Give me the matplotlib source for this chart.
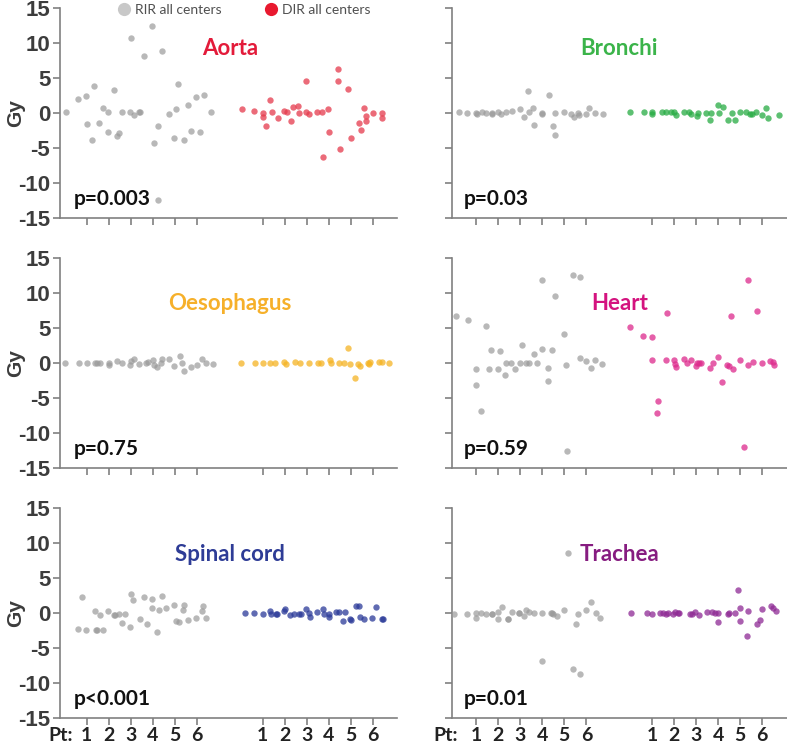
import matplotlib
matplotlib.use("Agg")
import matplotlib.pyplot as plt
from matplotlib.lines import Line2D

# ---------------- data ----------------
organs = ["Aorta", "Bronchi", "Oesophagus", "Heart", "Spinal cord", "Trachea"]
p_labels = ["p=0.003", "p=0.03", "p=0.75", "p=0.59", "p<0.001", "p=0.01"]
title_colors = ["#e31b3a", "#3bb44a", "#f6b02a", "#d4137f", "#2e3c96", "#861c80"]
dir_colors = ["#e53a4c", "#27ab43", "#f5b424", "#dd2a8c", "#2b3a98", "#8e2a94"]
rir_color = "#9a9a9a"

patients = [1, 2, 3, 4, 5, 6]
rir_tick_pos = [1, 2, 3, 4, 5, 6]
dir_tick_pos = [9, 10, 11, 12, 13, 14]
y_ticks = [-15, -10, -5, 0, 5, 10, 15]

aorta_rir_x = [0.05, 0.59, 0.98, 1.03, 1.32, 1.23, 1.56, 1.76, 1.98, 1.98, 2.26, 2.39, 2.47, 2.61, 3.0, 2.98, 3.15, 3.36, 3.42, 3.61,
               3.98, 4.05, 4.26, 4.24, 4.42, 4.76, 5.06, 5.14, 4.98, 5.41, 5.61, 5.74, 5.98, 6.14, 6.32, 6.64]
aorta_rir_y = [0.14, 2.0, 2.4, -1.57, 3.86, -3.76, -1.43, 0.8, 0.19, -2.67, 3.38, -3.29, -2.86, 0.19, 10.76, 0.19, -0.29, 0.24, 0.19, 8.14,
               12.48, -4.19, -1.81, -12.38, 8.86, -0.05, 0.57, 4.24, -3.48, -3.81, 1.19, -2.57, 2.33, -2.62, 2.67, 0.19]
aorta_dir_x = [8.05, 8.59, 9.02, 9.0, 9.17, 9.35, 9.42, 9.68, 9.98, 10.1, 10.27, 10.39, 10.6, 10.67, 10.98, 10.97, 11.09, 11.45, 11.68, 11.74,
               11.98, 12.03, 12.41, 12.42, 12.5, 12.89, 13.0, 13.39, 13.47, 13.62, 13.67, 13.67, 14.0, 14.44, 14.44]
aorta_dir_y = [0.62, 0.29, 0.1, -0.52, -1.81, 1.9, 0.14, -0.71, 0.38, 0.19, -1.05, 0.95, 1.1, 0.1, 4.57, 0.14, -0.1, 0.14, 0.14, -6.29,
               0.67, -2.67, 6.33, 4.57, -5.1, 3.52, -3.48, -1.43, -2.33, 0.76, -0.33, -1.05, 0.1, 0.0, -0.71]

bronchi_rir_x = [0.21, 0.59, 1.0, 1.27, 1.45, 1.7, 1.97, 2.14, 2.35, 2.64, 2.98, 3.17, 3.36, 3.39, 3.59, 3.61, 3.98, 4.29, 4.47, 4.59,
                 4.59, 4.98, 5.3, 5.42, 5.61, 5.67, 5.97, 6.14, 6.41, 6.74, 1.02, 1.72, 4.0]
bronchi_rir_y = [0.14, 0.1, 0.0, 0.19, 0.05, 0.05, 0.14, -0.05, 0.19, 0.33, 0.62, -0.57, 3.14, 0.19, 0.71, -1.62, 0.0, 2.57, -1.76, -3.05,
                 0.05, 0.19, -0.05, -0.57, 0.0, -0.29, -0.05, 0.71, 0.0, -0.05, -0.05, -0.05, -0.05]
bronchi_dir_x = [7.98, 8.61, 9.0, 9.0, 9.44, 9.61, 9.83, 10.0, 10.08, 10.45, 10.68, 10.77, 11.02, 11.06, 11.44, 11.61, 11.68, 12.0, 12.23, 12.02,
                 12.45, 12.74, 12.61, 12.98, 13.24, 13.42, 13.55, 13.7, 14.0, 14.15, 14.27, 14.76]
bronchi_dir_y = [0.19, 0.19, 0.24, -0.14, 0.19, 0.19, 0.24, 0.19, -0.24, 0.24, 0.19, -0.1, -0.43, 0.1, 0.1, -0.9, 0.05, 1.14, 0.9, 0.1,
                 -1.0, -1.0, 0.05, 0.19, 0.14, -0.05, -0.1, 0.19, -0.19, 0.76, -0.62, -0.19]

oeso_rir_x = [0.02, 0.65, 1.0, 1.38, 1.48, 1.61, 2.0, 2.03, 2.39, 2.62, 2.97, 3.02, 3.15, 3.38, 3.68, 3.8, 4.0, 4.08, 4.18, 4.41,
              4.39, 4.73, 4.95, 5.24, 5.33, 5.42, 5.73, 6.02, 6.23, 6.42, 6.76]
oeso_rir_y = [0.05, 0, 0.1, 0.05, 0.05, 0.05, 0.05, -0.19, 0.29, 0.1, -0.19, 0.29, 0.62, -0.05, 0.1, 0.24, 0.48, -0.19, -0.52, 0.57,
              0, 0.62, -0.33, 1.1, 0.1, -1.05, -0.52, -0.19, 0.57, 0.1, -0.05]
oeso_dir_x = [8.0, 8.65, 9.0, 9.33, 9.58, 9.98, 10.06, 10.48, 10.7, 11.08, 11.5, 11.64, 12.06, 12.11, 12.48, 12.7, 12.86, 12.98, 13.17, 13.33,
              13.44, 13.76, 13.85, 13.89, 14.3, 14.41, 14.74]
oeso_dir_y = [0.05, 0, 0.1, 0.05, 0.1, 0.19, -0.14, 0.19, 0.05, 0.05, 0, 0, 0.48, 0.1, 0.05, 0.05, 2.14, -0.1, -2.05, -0.05,
              -0.33, 0.05, -0.14, 0.19, 0.24, 0.14, 0.1]

heart_rir_x = [0.06, 0.61, 1.0, 0.98, 1.21, 1.42, 1.59, 1.65, 1.98, 2.09, 2.3, 2.36, 2.59, 2.74, 2.98, 3.09, 3.24, 3.38, 3.61, 3.74,
               3.98, 3.98, 4.27, 4.27, 4.42, 4.58, 4.97, 5.09, 5.11, 5.41, 5.73, 5.71, 5.98, 6.23, 6.39, 6.7]
heart_rir_y = [6.81, 6.19, -0.76, -3.1, -6.76, 5.33, -0.81, 1.86, -0.76, 1.76, -1.67, 0, 0, -0.76, 0, 2.62, 0, 0.05, 1.38, 0,
               2.0, 11.9, -0.67, -2.57, 1.95, 9.57, 4.14, -0.24, -12.57, 12.57, 12.38, 0.76, 0.29, -0.71, 0.48, -0.1]
heart_dir_x = [7.98, 8.59, 8.98, 9.0, 9.26, 9.21, 9.61, 9.65, 10.0, 10.05, 10.08, 10.45, 10.58, 10.74, 10.98, 11.03, 11.12, 11.21, 11.62, 11.76,
               11.98, 12.18, 12.38, 12.47, 12.59, 12.65, 12.98, 13.17, 13.35, 13.33, 13.59, 13.74, 13.98, 14.35, 14.47, 14.53]
heart_dir_y = [5.14, 3.86, 3.76, 0.52, -5.38, -7.1, 0.48, 7.14, 0.48, -0.05, -0.52, 0.57, 0.05, 0.52, -0.38, 0, 0, 0.1, -0.71, 0,
               0.86, -2.67, -0.24, -0.38, 6.76, -0.76, 0.48, -11.9, 11.95, -0.29, 0.19, 7.52, 0, 0.33, 0.24, -0.24]

spinal_rir_x = [0.59, 0.77, 0.98, 1.38, 1.42, 1.45, 1.59, 1.76, 1.98, 2.24, 2.27, 2.47, 2.61, 2.76, 2.98, 3.02, 3.12, 3.41, 3.61, 3.73,
                3.97, 3.98, 4.18, 4.3, 4.44, 4.59, 4.97, 5.06, 5.18, 5.38, 5.44, 5.61, 5.97, 6.26, 6.29, 6.44]
spinal_rir_y = [-2.29, 2.33, -2.33, 0.33, -2.38, -2.38, -0.19, -2.33, 0.33, -0.24, -0.24, -0.1, -1.38, -0.1, -1.9, 2.71, 1.95, -0.81, 2.38, -1.52,
                2.05, 0.81, -2.67, 0.48, 2.48, 0.76, 1.14, -1.05, -1.19, 0.48, 1.24, -0.9, -0.67, 0.38, 1.05, -0.71]
spinal_dir_x = [8.18, 8.61, 9.0, 9.35, 9.38, 9.61, 9.65, 9.95, 10.03, 10.26, 10.44, 10.64, 10.76, 10.97, 11.11, 11.17, 11.45, 11.73, 11.79, 12.0,
                12.02, 12.33, 12.45, 12.74, 12.65, 12.97, 13.0, 13.23, 13.39, 13.42, 13.61, 13.98, 14.14, 14.44, 14.48]
spinal_dir_y = [0.05, 0, -0.05, 0.33, -0.05, -0.05, -0.05, 0.33, 0.62, -0.29, -0.1, -0.14, -0.1, 0.62, 0.1, -0.57, 0.14, 0.57, -0.14, -0.05,
                -0.57, 0.24, 0.19, 0.14, -1.05, -0.76, -1.0, 1.05, 1.05, -0.52, -0.86, -0.71, 0.95, -0.76, -0.76]

trachea_rir_x = [0.0, 0.59, 0.98, 1.0, 1.21, 1.45, 1.7, 1.72, 1.98, 1.98, 2.18, 2.42, 2.44, 2.61, 2.94, 2.96, 3.17, 3.24, 3.41, 3.61,
                 3.98, 3.98, 4.38, 4.42, 4.5, 4.65, 4.97, 5.18, 5.38, 5.52, 5.61, 5.7, 5.97, 6.2, 6.42, 6.64]
trachea_rir_y = [-0.05, -0.05, 0.05, -0.62, 0, -0.05, -0.1, -0.1, 0.24, -0.76, 0.86, -0.76, -0.76, 0.14, 0.1, 0.1, -0.43, 0.52, 0.19, 0.05,
                 0, -6.81, 0, 0, -0.05, -0.33, 0.43, 8.57, -8.0, -1.57, -0.05, -8.62, 0.48, 1.57, 0, -0.67]
trachea_dir_x = [8.03, 8.74, 9.0, 9.33, 9.48, 9.64, 9.73, 9.95, 10.03, 10.15, 10.21, 10.7, 10.82, 10.95, 11.11, 11.47, 11.71, 11.86, 12.0, 12.0,
                 12.42, 12.48, 12.77, 12.88, 12.98, 12.98, 13.29, 13.33, 13.74, 13.88, 13.97, 14.38, 14.5, 14.62]
trachea_dir_y = [0, 0, -0.1, 0.05, 0, -0.14, 0, -0.05, 0.19, 0.05, 0.1, -0.05, -0.05, 0.19, -0.24, 0.19, 0.24, 0, -1.19, 0,
                 -0.05, 0, 0, 3.29, 0.81, -1.1, -3.19, 0.33, -1.52, -0.95, 0.62, 1.05, 0.76, 0.33]

rir_x = [aorta_rir_x, bronchi_rir_x, oeso_rir_x, heart_rir_x, spinal_rir_x, trachea_rir_x]
rir_y = [aorta_rir_y, bronchi_rir_y, oeso_rir_y, heart_rir_y, spinal_rir_y, trachea_rir_y]
dir_x = [aorta_dir_x, bronchi_dir_x, oeso_dir_x, heart_dir_x, spinal_dir_x, trachea_dir_x]
dir_y = [aorta_dir_y, bronchi_dir_y, oeso_dir_y, heart_dir_y, spinal_dir_y, trachea_dir_y]

# ---------------- figure ----------------
W, H = 787, 747
fig = plt.figure(figsize=(W / 100, H / 100), dpi=100)

col_px = [(60, 397), (451.7, 786.5)]
row_px = [(8.3, 218.3), (258.3, 468.3), (508.3, 718.3)]
xlims = [(-0.21, 15.1), (-0.12, 15.1)]
pt_pos = [-0.19, -0.38]

spine_col = "#808080"
text_col = "#3c3c3c"
label_font = "Liberation Sans"
cal_font = "Lato"
tick_len = 5
xlab_pad = 1.3
xlab_size = 14

for i, organ in enumerate(organs):
    r, c = divmod(i, 2)
    x0, x1 = col_px[c]
    yt, yb = row_px[r]
    ax = fig.add_axes([x0 / W, 1 - yb / H, (x1 - x0) / W, (yb - yt) / H])
    for s in ["top", "right"]:
        ax.spines[s].set_visible(False)
    for s in ["left", "bottom"]:
        ax.spines[s].set_color(spine_col)
        ax.spines[s].set_linewidth(1.2)

    ax.scatter(rir_x[i], rir_y[i], s=21, color=rir_color, alpha=0.7, linewidths=0, zorder=3, clip_on=False)
    ax.scatter(dir_x[i], dir_y[i], s=21, color=dir_colors[i], alpha=0.75, linewidths=0, zorder=3, clip_on=False)

    ax.set_yticks(y_ticks)
    ax.tick_params(axis="both", which="major", direction="out", length=tick_len, width=1.2, color=spine_col)
    ax.set_xticks(rir_tick_pos + dir_tick_pos)
    if c == 0:
        ax.set_yticklabels([str(v) for v in y_ticks], fontfamily=label_font, fontweight="bold",
                           fontsize=16, color=text_col)
        ax.tick_params(axis="y", pad=2)
        ax.set_ylabel("Gy", fontfamily=label_font, fontweight="bold", fontsize=15, color=text_col)
        ax.yaxis.set_label_coords(-0.103, 0.5)
    else:
        ax.set_yticklabels([])

    if r == 2:
        ax.set_xticklabels([str(p) for p in patients] * 2, fontfamily=cal_font, fontweight="bold",
                           fontsize=xlab_size, color="#222222")
        ax.tick_params(axis="x", which="major", pad=xlab_pad)
        ax.annotate("Pt:", xy=(pt_pos[c], 0), xycoords=("data", "axes fraction"),
                    xytext=(0, -(tick_len + xlab_pad)), textcoords="offset points",
                    ha="center", va="top", fontfamily=cal_font, fontweight="bold",
                    fontsize=xlab_size, color="#222222", annotation_clip=False)
    else:
        ax.set_xticklabels([])

    ax.set_xlim(*xlims[c])
    ax.set_ylim(-15, 15)

    ty = [9.3, 8.6, 8.4][r]
    ax.text(7.5, ty, organ, color=title_colors[i], fontfamily=cal_font, fontweight="bold",
            fontsize=16, ha="center", va="center")
    ax.text(0.42, -12.2, p_labels[i], color="#111111", fontfamily=cal_font, fontweight="bold",
            fontsize=15, ha="left", va="center")

handles = [Line2D([], [], marker="o", ls="", color="#c8c8c8", markersize=9.5, markeredgewidth=0),
           Line2D([], [], marker="o", ls="", color="#e8192f", markersize=9.5, markeredgewidth=0)]
fig.legend(handles, ["RIR all centers", "DIR all centers"], loc="center",
           bbox_to_anchor=(243 / W, 1 - 10 / H), ncol=2, frameon=False,
           prop={"family": cal_font, "size": 10}, labelcolor="#505050",
           handletextpad=0.15, columnspacing=3.0, handlelength=1.2, borderpad=0)

fig.savefig("out.png", dpi=100)
